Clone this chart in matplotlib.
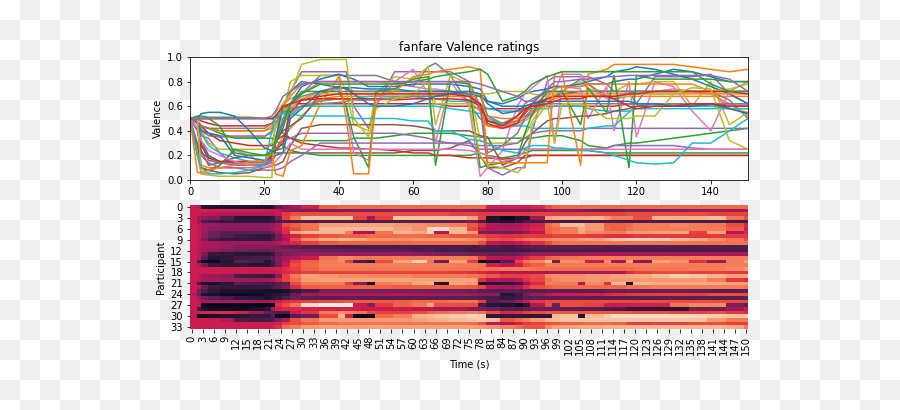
import numpy as np
import matplotlib
matplotlib.use("Agg")
import matplotlib.pyplot as plt
import seaborn as sns  # registers the rocket colormap


# Sample times (s) shared by all participants, end_time closes the last heatmap cell
times = [0, 2, 3, 5, 8, 12, 16, 20, 22, 23, 25, 27, 30, 35, 40, 42, 44, 48, 50, 55,
         60, 64, 66, 70, 75, 78, 80, 84, 88, 90, 92, 96, 98, 100, 105, 107, 112, 114, 118, 120,
         125, 130, 135, 140, 145, 150]
end_time = 151

# Ratings in percent, one list per participant
p00 = [50,48,12,10,10, 10,10,10,11,25, 35,42,52,66,68, 68,68,68,68,68, 68,68,68,68,68, 68,52,50,50,52, 54,62,66,68,68, 68,68,68,68,68, 68,68,68,68,68, 68]
p01 = [50,52,52,51,51, 51,51,50,50,48, 38,34,32,32,32, 32,34,34,34,36, 38,38,38,38,36, 35,34,34,34,34, 34,36,36,36,32, 28,26,28,30,30, 32,34,36,38,40, 42]
p02 = [50,50,48,46,44, 44,44,44,46,50, 58,62,62,62,62, 62,62,62,62,62, 62,62,62,60,60, 58,58,58,58,58, 60,60,60,60,60, 60,60,60,62,62, 62,62,62,60,60, 60]
p03 = [50,42,36,34,22, 12,12,12,14,30, 60,72,88,88,88, 88,60,42,60,88, 88,88,88,88,80, 60,10,4,10,10, 40,80,84,84,84, 84,78,72,72,62, 84,84,84,86,70, 62]
p04 = [50,40,22,18,15, 14,14,14,16,20, 22,22,22,22,22, 22,22,22,22,22, 24,24,24,26,32, 20,10,10,14,20, 20,20,20,20,20, 20,20,20,20,20, 20,20,20,20,20, 20]
p05 = [50,48,42,38,36, 36,36,36,38,44, 62,66,70,80,80, 80,80,80,80,78, 76,74,74,72,64, 56,44,42,44,48, 52,68,72,86,86, 78,66,66,68,72, 72,74,72,70,62, 52]
p06 = [50,48,40,36,35, 35,35,35,40,46, 56,62,70,85,85, 85,85,85,85,80, 76,92,95,85,62, 50,44,44,46,50, 54,66,68,72,82, 78,68,66,70,72, 72,72,72,72,65, 50]
p07 = [50,48,40,30,25, 25,25,25,30,42, 55,80,85,85,85, 72,45,40,70,84, 82,92,45,85,78, 32,30,30,30,36, 48,66,70,72,80, 74,72,72,78,78, 80,80,60,80,45, 55]
p08 = [50,48,38,28,22, 18,15,14,18,30, 48,52,60,64,66, 66,66,68,68,68, 68,66,66,64,64, 62,58,56,56,58, 58,58,60,60,60, 58,56,56,56,58, 58,58,58,58,58, 58]
p09 = [50,48,32,20,15, 15,15,15,20,30, 42,62,76,82,86, 84,82,76,76,76, 78,78,78,78,76, 74,64,62,66,70, 72,74,76,76,78, 80,84,88,90,92, 90,86,82,76,70, 62]
p10 = [50,48,44,42,40, 40,40,40,42,46, 50,54,60,65,66, 66,66,66,66,67, 68,68,68,68,68, 62,48,45,48,52, 56,62,68,70,70, 70,70,70,70,70, 70,70,70,70,70, 70]
p11 = [50,48,44,42,38, 34,34,34,34,32, 28,24,22,20,20, 20,20,20,20,20, 20,20,20,20,20, 22,20,18,20,22, 24,24,24,24,24, 24,22,22,22,22, 22,22,22,22,22, 22]
p12 = [50,48,44,38,32, 30,28,28,28,32, 36,34,30,28,26, 26,26,25,25,24, 22,22,20,20,18, 18,18,17,18,18, 20,20,20,20,20, 20,20,20,20,20, 20,20,20,20,20, 20]
p13 = [50,46,30,16,14, 12,12,12,16,26, 32,34,38,38,38, 38,38,38,38,38, 36,34,32,30,30, 28,28,28,30,34, 38,40,40,40,40, 42,42,42,42,42, 42,42,42,42,42, 42]
p14 = [50,46,24,12,14, 18,20,20,24,32, 40,44,50,70,75, 75,72,72,72,72, 72,72,72,72,70, 58,48,46,48,54, 60,66,68,70,72, 72,72,72,72,72, 72,72,72,72,72, 72]
p15 = [50,20,5,6,12, 24,20,12,20,34, 46,58,66,72,74, 60,22,16,62,80, 90,70,30,80,60, 3,10,24,60,70, 75,85,30,76,74, 50,76,40,80,35, 80,76,56,40,72, 80]
p16 = [50,46,30,16,14, 14,12,12,18,30, 50,62,68,72,72, 72,72,72,72,72, 72,72,72,72,72, 70,52,46,52,62, 66,72,72,72,72, 72,72,72,72,72, 72,72,72,72,72, 72]
p17 = [50,50,50,50,50, 50,50,50,50,52, 56,60,66,70,70, 70,70,70,70,70, 70,70,70,70,70, 70,70,72,72,72, 70,68,68,68,68, 68,68,68,68,70, 70,70,72,72,74, 78]
p18 = [50,50,50,50,50, 50,50,50,50,50, 54,56,60,60,60, 60,60,60,60,60, 60,60,60,58,56, 54,50,46,44,44, 42,42,42,42,42, 42,44,44,55,60, 62,62,60,60,58, 58]
p19 = [50,48,40,38,36, 20,18,16,18,34, 60,72,80,78,75, 75,75,74,74,74, 72,72,72,72,70, 68,64,60,60,60, 62,74,76,76,76, 78,78,80,82,82, 86,90,88,84,80, 80]
p20 = [50,48,44,42,40, 40,40,40,44,52, 60,68,78,80,80, 80,80,80,80,80, 80,80,80,80,80, 56,44,42,48,56, 60,70,74,76,76, 78,78,78,78,78, 78,78,78,72,58, 55]
p21 = [50,20,10,8,12, 25,22,20,20,24, 26,62,72,72,72, 60,35,10,72,74, 82,84,12,80,78, 10,12,14,18,38, 54,72,72,72,45, 75,55,85,10,85, 82,82,82,82,80, 80]
p22 = [50,48,28,18,15, 15,15,15,20,24, 30,55,65,66,66, 66,66,66,66,65, 66,66,66,66,65, 60,46,42,46,56, 62,66,68,68,68, 68,68,68,70,70, 72,72,72,72,72, 70]
p23 = [50,30,20,14,10, 10,8,8,8,8, 10,15,20,30,30, 30,30,30,30,30, 30,30,30,30,28, 25,25,25,25,25, 25,25,25,25,25, 25,26,28,28,28, 28,28,26,25,25, 25]
p24 = [45,28,10,8,6, 5,6,10,12,12, 15,28,42,45,45, 45,45,45,45,45, 44,42,40,40,40, 36,35,12,18,30, 38,48,50,50,52, 52,54,56,58,60, 60,60,60,62,62, 62]
p25 = [50,42,32,24,20, 15,12,10,12,15, 22,30,25,25,25, 25,25,25,25,25, 25,25,25,25,24, 22,20,15,18,24, 25,25,25,25,25, 25,25,25,25,25, 25,25,25,25,25, 25]
p26 = [50,48,44,42,42, 42,42,42,46,50, 55,58,60,62,63, 64,65,65,65,66, 68,68,68,70,70, 60,22,28,38,50, 58,62,62,62,62, 62,62,62,62,62, 62,62,62,62,62, 62]
p27 = [50,50,5,4,3, 3,3,2,2,55, 62,70,94,98,98, 98,50,35,58,66, 70,80,62,62,62, 20,12,10,6,12, 45,62,30,62,62, 60,50,50,50,52, 52,70,75,74,32, 25]
p28 = [50,20,10,5,5, 6,8,12,40,52, 54,54,52,52,52, 52,50,50,50,50, 48,48,40,40,33, 32,30,24,22,26, 28,28,26,26,24, 24,22,20,16,14, 13,14,30,30,40, 50]
p29 = [50,50,54,55,55, 52,40,26,24,22, 22,50,58,72,76, 74,70,62,60,60, 62,66,68,70,72, 70,62,54,56,60, 62,64,64,64,64, 64,64,64,64,62, 62,60,60,62,58, 54]
p30 = [50,6,6,8,10, 12,15,15,22,5, 3,24,28,62,84, 50,5,5,68,72, 84,86,88,90,92, 90,14,14,14,14, 14,14,86,88,12, 86,90,94,94,94, 94,94,92,90,88, 90]
p31 = [50,50,50,50,44, 22,20,20,22,32, 46,62,70,78,78, 78,78,78,78,78, 80,82,84,86,88, 90,86,64,68,72, 78,84,86,88,88, 88,88,88,88,88, 88,88,88,78,72, 72]
p32 = [50,50,50,50,50, 50,50,50,50,52, 60,62,65,68,70, 70,70,70,70,70, 70,70,70,70,68, 62,48,44,52,58, 60,62,64,66,66, 68,68,66,60,58, 60,60,62,62,60, 60]
p33 = [50,50,50,50,50, 50,50,50,52,56, 68,72,78,80,80, 80,80,80,80,80, 80,80,80,80,80, 78,76,72,68,64, 64,74,80,80,82, 82,84,84,85,85, 85,85,85,85,82, 72]

participants = [p00, p01, p02, p03, p04, p05, p06, p07, p08, p09, p10, p11,
                p12, p13, p14, p15, p16, p17, p18, p19, p20, p21, p22, p23,
                p24, p25, p26, p27, p28, p29, p30, p31, p32, p33]
ratings = np.array(participants) / 100

fig = plt.figure(figsize=(900 / 72, 410 / 72), dpi=72)

# The reference has a grey and white checkerboard baked in behind the chart
rows, cols = np.indices((410, 900))
board = np.where((rows // 20 + cols // 20) % 2 == 1, 239, 255).astype(np.uint8)
fig.figimage(board, cmap="gray", vmin=0, vmax=255, zorder=-1)

ax1 = fig.add_axes([190 / 900, 1 - 180 / 410, 558 / 900, 123 / 410])
ax2 = fig.add_axes([190 / 900, 1 - 329 / 410, 558 / 900, 124 / 410])

# Line colours start one step into the cycle
for i, series in enumerate(ratings):
    ax1.plot(times, series, color="C%d" % ((i + 1) % 10))
ax1.set_xlim(0, 150)
ax1.set_ylim(0, 1)
ax1.set_ylabel("Valence")
ax1.set_title("fanfare Valence ratings")

x_edges = times + [end_time]
y_edges = np.arange(len(participants) + 1)
ax2.pcolormesh(x_edges, y_edges, ratings, cmap="rocket")
ax2.set_xlim(0, end_time)
ax2.set_ylim(len(participants), 0)
x_ticks = np.arange(0, end_time, 3)
y_ticks = np.arange(0, len(participants), 3)
ax2.set_xticks(x_ticks + 0.5)
ax2.set_xticklabels(x_ticks, rotation=90)
ax2.set_yticks(y_ticks + 0.5)
ax2.set_yticklabels(y_ticks, rotation=0)
ax2.set_xlabel("Time (s)")
ax2.set_ylabel("Participant")
for spine in ax2.spines.values():
    spine.set_visible(False)

fig.savefig("out.png", dpi=72)
